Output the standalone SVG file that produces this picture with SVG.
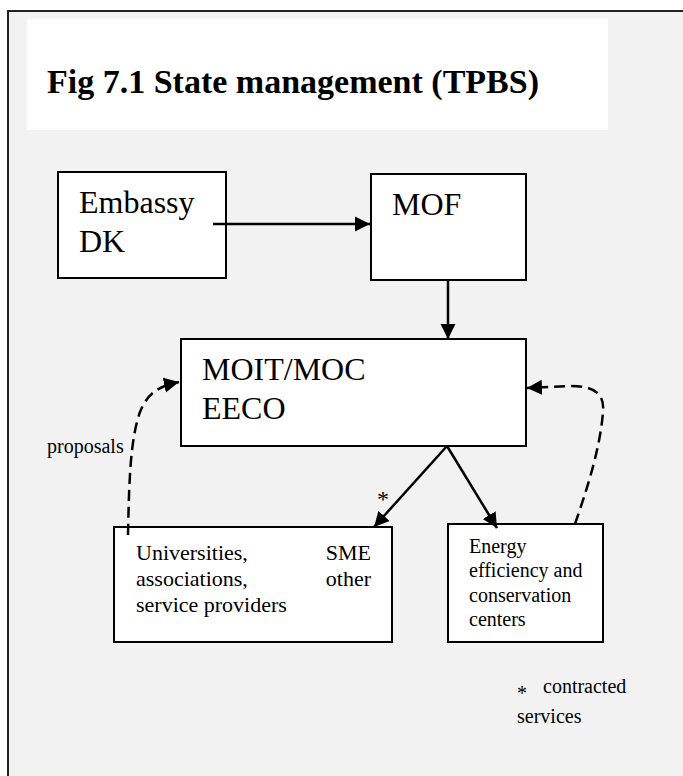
<svg xmlns="http://www.w3.org/2000/svg" width="683" height="776" viewBox="0 0 683 776">
<style>
.box{fill:#fff;stroke:#000;stroke-width:2}
text{font-family:"Liberation Serif","Times New Roman",serif;fill:#000}
.big{font-size:32px}
.mid{font-size:22px}
.sm{font-size:20px}
.line{fill:none;stroke:#000;stroke-width:2.5}
.dash{fill:none;stroke:#000;stroke-width:2.5;stroke-dasharray:11 6}
</style>
<defs>
<marker id="ah" markerUnits="userSpaceOnUse" markerWidth="16" markerHeight="16" refX="15" refY="8" orient="auto">
<path d="M0,0.5 L15,8 L0,15.5 z" fill="#000"/>
</marker>
</defs>
<rect x="8" y="11" width="700" height="800" fill="#f2f2f2" stroke="#222" stroke-width="2"/>
<g font-family="Liberation Serif, Times New Roman, serif">
<g id="title">
<rect x="27" y="19" width="581" height="111" fill="#fff"/>
<text x="47" y="93" font-size="34" font-weight="bold">Fig 7.1 State management (TPBS)</text>
</g>
<g id="embassy">
<rect class="box" x="58" y="172" width="168" height="106"/>
<text class="big" x="79" y="213">Embassy</text>
<text class="big" x="79" y="252">DK</text>
</g>
<g id="mof">
<rect class="box" x="371" y="174" width="155" height="106"/>
<text class="big" x="392" y="215">MOF</text>
</g>
<g id="moit">
<rect class="box" x="181" y="339" width="345" height="107"/>
<text class="big" x="202" y="380">MOIT/MOC</text>
<text class="big" x="202" y="419">EECO</text>
</g>
<g id="universities">
<rect class="box" x="114" y="527" width="278" height="115"/>
<text class="mid" x="136" y="560">Universities,</text>
<text class="mid" x="371" y="560" text-anchor="end">SME</text>
<text class="mid" x="136" y="586">associations,</text>
<text class="mid" x="371" y="586" text-anchor="end">other</text>
<text class="mid" x="136" y="612">service providers</text>
</g>
<g id="energy">
<rect class="box" x="448" y="524" width="155" height="118"/>
<text class="sm" x="469" y="553">Energy</text>
<text class="sm" x="469" y="577">efficiency and</text>
<text class="sm" x="469" y="602">conservation</text>
<text class="sm" x="469" y="626">centers</text>
</g>
<g id="connectors">
<line class="line" x1="213" y1="224" x2="370" y2="224" marker-end="url(#ah)"/>
<line class="line" x1="448" y1="280" x2="448" y2="339" marker-end="url(#ah)"/>
<line class="line" x1="447" y1="446" x2="374" y2="527" marker-end="url(#ah)"/>
<line class="line" x1="447" y1="446" x2="497" y2="528" marker-end="url(#ah)"/>
<path class="dash" d="M128,535 C129,485 130,440 140,412 C148,392 160,386 179,382" marker-end="url(#ah)"/>
<path class="dash" d="M575,524 C586,492 600,450 603,412 C605,392 592,386 570,386 L527,388" marker-end="url(#ah)"/>
</g>
<g id="labels">
<text class="sm" x="47" y="453">proposals</text>
<text x="383" y="507" font-size="24" text-anchor="middle">*</text>
<text class="sm" x="517" y="700">*</text>
<text class="sm" x="543" y="693">contracted</text>
<text class="sm" x="517" y="723">services</text>
</g>
</g>
</svg>
